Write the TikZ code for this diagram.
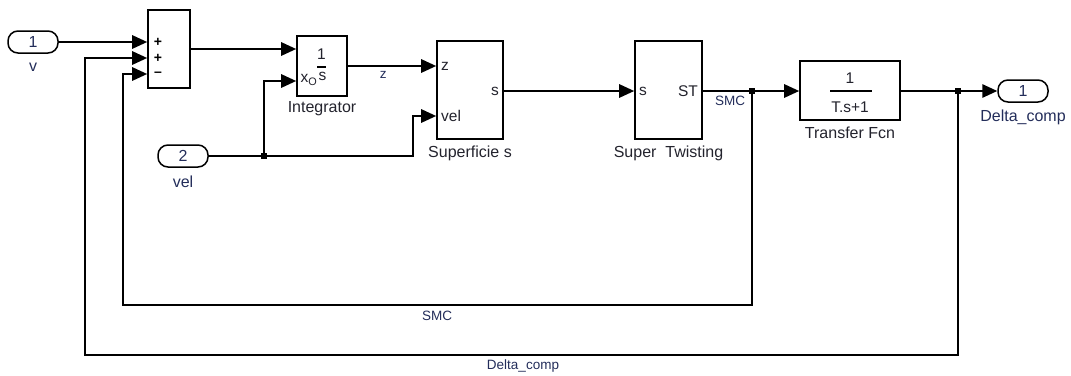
\documentclass[tikz,border=0pt]{standalone}
\usepackage{fontspec}
\setmainfont{Liberation Sans}
\usetikzlibrary{positioning,arrows.meta,calc}
\definecolor{lblblue}{RGB}{35,45,90}
\definecolor{lblgray}{RGB}{35,35,45}

\begin{document}
\begin{tikzpicture}[
    x=1pt, y=-1pt,
    >={Triangle[length=15pt, width=13.5pt]},
    block/.style={draw=black, line width=1.7pt, fill=white, inner sep=0pt},
    port/.style={
        draw=black,
        line width=1.5pt,
        rounded corners=10pt,
        minimum width=50pt,
        minimum height=22pt,
        inner sep=0pt,
        font=\fontsize{16}{18}\selectfont,
        text=lblblue
    },
    blkname/.style={font=\fontsize{16}{18}\selectfont, text=lblgray},
    portname/.style={font=\fontsize{16}{18}\selectfont, text=lblblue},
    inlbl/.style={font=\fontsize{15.5}{17}\selectfont, text=lblgray, inner sep=0pt},
    siglbl/.style={font=\fontsize{13.5}{15}\selectfont, text=lblblue},
    sgn/.style={font=\fontsize{14}{16}\selectfont\bfseries, inner sep=0pt},
    sig/.style={->, line width=1.5pt},
    wire/.style={line width=1.5pt},
    jdot/.style={fill=black, minimum size=5.5pt, inner sep=0pt}
]

% --- Frame ---
\useasboundingbox (0,0) rectangle (1071,375);

% --- Row heights ---
\def\yMain{91}
\def\ySumB{58}
\def\ySumC{74}
\def\yXo{81}
\def\yZ{66}
\def\yVel{116}
\def\ySMC{305}
\def\yDelta{355}

% --- Ports ---
\node[port] (in1)  at (33,42)   {1};
\node[port] (in2)  at (183,156) {2};
\node[port] (out1) at (1023,\yMain) {1};
\node[portname] (in1lbl)  at (33,67)   {v};
\node[portname] (in2lbl)  at (183,182) {vel};
\node[portname] (out1lbl) at (1023,117) {Delta\_comp};

% --- Blocks ---
\node[block, minimum width=42pt, minimum height=78pt]  (sum)   at (169,49)    {};
\node[block, minimum width=50pt, minimum height=60pt]  (integ) at (322,66)    {};
\node[block, minimum width=66pt, minimum height=98pt]  (surf)  at (470,90)    {};
\node[block, minimum width=67pt, minimum height=98pt]  (stw)   at (668.5,90)  {};
\node[block, minimum width=100pt, minimum height=59pt] (tfcn)  at (850,90.5)  {};

% --- Block names ---
\node[blkname] (integlbl) at (322,109)   {Integrator};
\node[blkname] (surflbl)  at (470,153)   {Superficie s};
\node[blkname] (stwlbl)   at (668.5,153) {Super\ \ Twisting};
\node[blkname] (tfcnlbl)  at (850,133)   {Transfer Fcn};

% --- Block contents ---
% sum signs
\node[sgn] (sgnA) at (158,42)     {+};
\node[sgn] (sgnB) at (158,\ySumB) {+};
\node[sgn] (sgnC) at (158,\ySumC) {\textendash};

% integrator 1/s with x_o
\node[inlbl] (intnum) at (321.5,54) {1};
\draw[line width=1.1pt] (317,67) -- (326,67);
\node[inlbl] (intden) at (322.5,76) {s};
\node[inlbl, anchor=east] (intxo) at (317.5,80) {x\textsubscript{O}};

% surface
\node[inlbl, anchor=west] (surfz)   at (441,\yZ)   {z};
\node[inlbl, anchor=west] (surfvel) at (441,\yVel) {vel};
\node[inlbl, anchor=east] (surfs)   at (499,\yMain) {s};

% super twisting
\node[inlbl, anchor=west] (stws)  at (639,\yMain) {s};
\node[inlbl, anchor=east] (stwst) at (698,\yMain) {ST};

% transfer function
\node[inlbl] (tfnum) at (850,78) {1};
\draw[line width=1.1pt] (830,91) -- (872,91);
\node[inlbl] (tfden) at (850,107) {T.s+1};

% --- Branch points ---
\node[jdot] (jvel)   at (264,156)     {};
\node[jdot] (jsmc)   at (752,\yMain)  {};
\node[jdot] (jdelta) at (958,\yMain)  {};
\coordinate (velturn)  at (413,156);
\coordinate (smccnr)   at (123,\ySMC);
\coordinate (deltacnr) at (85,\yDelta);

% --- Forward signals ---
\draw[sig] (in1.east) -- (sum.west |- in1.east);
\draw[sig] (sum.east |- 0,49) -- (integ.west |- 0,49);
\draw[sig] (integ.east |- 0,\yZ) -- (surf.west |- 0,\yZ)
    node[siglbl, pos=0.4, below=1pt] {z};
\draw[wire] (in2.east) -- (jvel.center);
\draw[sig] (jvel.center) |- (integ.west |- 0,\yXo);
\draw[sig] (jvel.center) -- (velturn) |- (surf.west |- 0,\yVel);
\draw[sig] (surf.east |- 0,\yMain) -- (stw.west |- 0,\yMain);
\draw[wire] (stw.east |- 0,\yMain) -- (jsmc.center);
\node[siglbl] (smclbl) at (730,101) {SMC};
\draw[sig] (jsmc.center) -- (tfcn.west |- 0,\yMain);
\draw[wire] (tfcn.east |- 0,\yMain) -- (jdelta.center);
\draw[sig] (jdelta.center) -- (out1.west);

% --- Feedback loops ---
\draw[sig] (jsmc.center) |- (smccnr) |- (sum.west |- 0,\ySumC);
\node[siglbl] (smcfb) at (437,316) {SMC};
\draw[sig] (jdelta.center) |- (deltacnr) |- (sum.west |- 0,\ySumB);
\node[siglbl] (deltafb) at (523,366) {Delta\_comp};

\end{tikzpicture}
\end{document}
